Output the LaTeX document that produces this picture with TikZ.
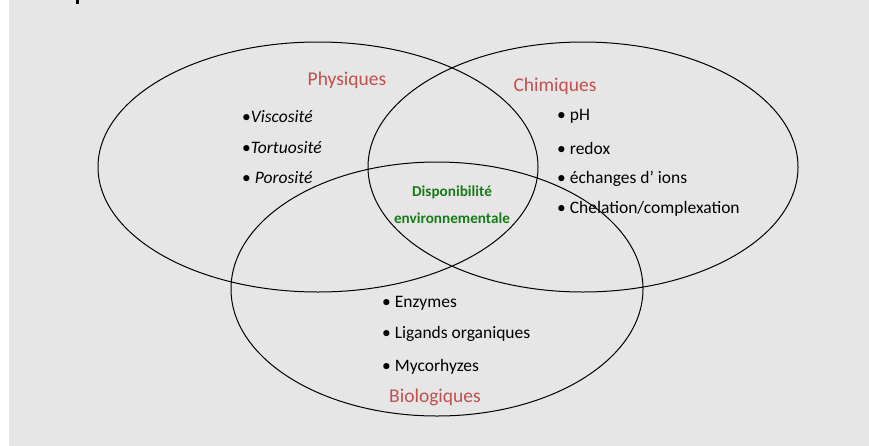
\documentclass[tikz,border=0pt]{standalone}
\usepackage{fontspec}
\setmainfont{Carlito}
\definecolor{fondgris}{RGB}{230,230,230}
\definecolor{rougecat}{RGB}{192,80,77}
\definecolor{vertdispo}{RGB}{24,122,24}
\begin{document}
\begin{tikzpicture}[x=1pt,y=-1pt,
    categorie/.style={text=rougecat,inner sep=0pt,font=\fontsize{19.5}{22}\selectfont},
    element/.style={anchor=west,inner sep=0pt,font=\fontsize{17.5}{20}\selectfont},
    centre/.style={text=vertdispo,inner sep=0pt,font=\bfseries\fontsize{15.2}{18}\selectfont}]
    \useasboundingbox (0,0) rectangle (869,445);
    \fill[fondgris] (9,-6) rectangle (876,452);
    \fill (76,-2) rectangle (78.5,4);
    % les trois ensembles
    \draw[line width=1pt] (318,167) ellipse (220pt and 125pt)
          (583,167) ellipse (215pt and 125pt)
          (437,289) ellipse (206pt and 127pt);
    % titres
    \node[categorie] (phys) at (347,80)  {Physiques};
    \node[categorie] (chim) at (555,86)  {Chimiques};
    \node[categorie] (bio)  at (435,397) {Biologiques};
    \node[centre] (dispo) at (452,192) {Disponibilité};
    \node[centre] (envir) at (452,218) {environnementale};
    % physiques
    \node[element] (visc) at (242,117) {•\textit{Viscosité}};
    \node[element] (tort) at (242,148) {•\textit{Tortuosité}};
    \node[element] (poro) at (242,178) {• \textit{Porosité}};
    % chimiques
    \node[element] (ph)    at (557,116) {• pH};
    \node[element] (redox) at (557,148) {• redox};
    \node[element] (ions)  at (557,179) {• échanges d’ ions};
    \node[element] (chel)  at (557,209) {• Chelation/complexation};
    % biologiques
    \node[element] (enzy) at (382,303) {• Enzymes};
    \node[element] (liga) at (382,334) {• Ligands organiques};
    \node[element] (myco) at (382,367) {• Mycorhyzes};
\end{tikzpicture}
\end{document}
